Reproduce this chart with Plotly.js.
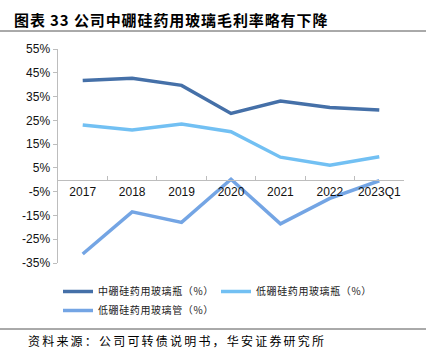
<!DOCTYPE html>
<html><head><meta charset="utf-8">
<script src="https://cdn.plot.ly/plotly-3.0.1.min.js"></script>
<style>html,body{margin:0;padding:0;background:#fff}#chart{width:446px;height:362px}</style>
</head><body><div id="chart"></div>
<script>
const categories = ['2017','2018','2019','2020','2021','2022','2023Q1'];
const seriesNames = ['中硼硅药用玻璃瓶（%）','低硼硅药用玻璃瓶（%）','低硼硅药用玻璃管（%）'];
const midBottle = [41.8, 42.7, 39.7, 27.9, 33.1, 30.4, 29.3];
const lowBottle = [23.0, 20.9, 23.5, 20.2, 9.5, 6.1, 9.7];
const lowTube = [-31.2, -13.5, -17.9, 0.2, -18.5, -7.8, -0.4];
const yTickVals = [-35,-25,-15,-5,5,15,25,35,45,55];
const yTickText = yTickVals.map(v => v + '%');
const colors = ['#4570a8', '#72c0f3', '#74a5e4'];

const cjk = '"Noto Sans CJK SC", sans-serif';
const traces = [midBottle, lowBottle, lowTube].map((ys, i) => ({
  type: 'scatter', mode: 'lines', x: categories, y: ys, name: seriesNames[i],
  line: {color: colors[i], width: 3.5}
}));
const yMin = -35, yMax = 55;
const W = 346, H = 214;
const layout = {
  width: 446, height: 362,
  margin: {l: 58, r: 42, t: 49, b: 99, autoexpand: false},
  paper_bgcolor: '#fff', plot_bgcolor: '#fff',
  showlegend: true,
  legend: {orientation: 'h', x: 0, y: -(277-263)/H, xanchor: 'left', yanchor: 'top',
    font: {family: cjk, size: 10, color: '#222'}, entrywidth: 113, entrywidthmode: 'pixels',
    tracegroupgap: 0, itemwidth: 30},
  xaxis: {type: 'category', range: [-0.5, 6.5], anchor: 'free', position: (0 - yMin) / (yMax - yMin),
    showline: true, linecolor: '#bdbdbd', linewidth: 1.5, showgrid: false, zeroline: false,
    ticks: 'inside', tickson: 'boundaries', ticklen: 4, tickcolor: '#bdbdbd', tickangle: 0,
    tickfont: {family: 'Liberation Sans, Arial, sans-serif', size: 12, color: '#111'}, fixedrange: true},
  yaxis: {range: [yMin, yMax], tickvals: yTickVals, ticktext: yTickText, showline: true,
    linecolor: '#bdbdbd', linewidth: 1.5, showgrid: false, zeroline: false, ticks: 'outside',
    ticklen: 4, tickcolor: '#bdbdbd',
    tickfont: {family: 'Liberation Sans, Arial, sans-serif', size: 12, color: '#111'}},
  annotations: [
    {xref: 'paper', yref: 'paper', x: (12-58)/W, y: 1 + (49-19)/H, xanchor: 'left', yanchor: 'middle',
     align: 'left', text: '<b>图表 33 公司中硼硅药用玻璃毛利率略有下降</b>', showarrow: false,
     font: {family: cjk, size: 15, color: '#000'}},
    {xref: 'paper', yref: 'paper', x: (26-58)/W, y: -(340-263)/H, xanchor: 'left', yanchor: 'middle',
     align: 'left', text: '资料来源：公司可转债说明书，华安证券研究所', showarrow: false,
     font: {family: cjk, size: 12, color: '#000'}}
  ],
  shapes: [
    {type: 'line', xref: 'paper', yref: 'paper', x0: -58/W, x1: (426-58)/W,
     y0: 1 + (49-31)/H, y1: 1 + (49-31)/H, line: {color: '#555', width: 1}},
    {type: 'line', xref: 'paper', yref: 'paper', x0: -58/W, x1: (426-58)/W,
     y0: -(329-263)/H, y1: -(329-263)/H, line: {color: '#555', width: 1}}
  ]
};
Plotly.newPlot('chart', traces, layout, {staticPlot: true}).then(() => {
  const anns = document.querySelectorAll('.annotation-text');
  anns.forEach(t => t.setAttribute('text-anchor', 'start'));
  if (anns[0]) anns[0].style.letterSpacing = '0.9px';
  if (anns[1]) anns[1].style.letterSpacing = '2.2px';
  document.querySelectorAll('.legendtext').forEach(t => { t.style.letterSpacing = '0.6px'; });
});
</script></body></html>
